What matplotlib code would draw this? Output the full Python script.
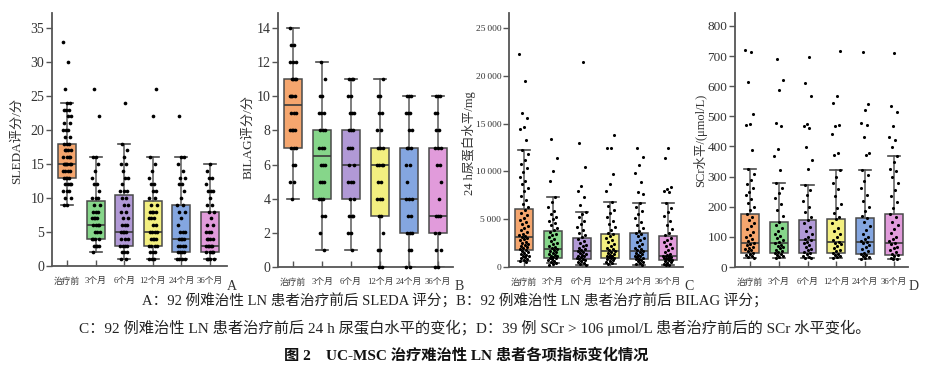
import numpy as np
import matplotlib
matplotlib.use("Agg")
import matplotlib.pyplot as plt

plt.rcParams['font.family'] = ['Liberation Serif', 'Noto Sans CJK SC']

groups = ['治疗前', '3个月', '6个月', '12个月', '24个月', '36个月']
box_colors = ['#F5A66E', '#86D68A', '#B199D6', '#F3EF80', '#84A6E0', '#E19BDB']

# ---- Panel A: SLEDA ----
sleda_pre = [33, 30, 26, 24, 24, 23, 23, 23, 22, 22, 21, 21, 20, 20, 20, 19, 19, 18, 18, 18, 17, 17, 17, 17,
             16, 16, 16, 16, 15, 15, 15, 15, 15, 15, 14, 14, 14, 14, 13, 13, 13, 13, 12, 12, 12, 12, 11, 11, 11,
             10, 10, 9, 9]
sleda_3m = [26, 22, 16, 16, 15, 14, 13, 12, 12, 11, 10, 10, 10, 9, 9, 8, 8, 8, 7, 7, 7, 7, 6, 6, 6, 6, 5, 5, 5,
            4, 4, 4, 4, 3, 3, 3, 3, 2]
sleda_6m = [24, 18, 17, 16, 15, 15, 14, 13, 13, 12, 11, 11, 11, 10, 10, 9, 9, 8, 8, 7, 7, 6, 6, 6, 5, 5, 5, 5,
            4, 4, 4, 3, 3, 3, 3, 2, 2, 2, 1, 1]
sleda_12m = [26, 22, 16, 15, 14, 13, 12, 12, 11, 11, 10, 10, 9, 9, 8, 8, 8, 8, 7, 7, 7, 6, 6, 5, 5, 5, 5, 4, 4,
             4, 4, 3, 3, 3, 3, 2, 2, 2, 1, 1, 1]
sleda_24m = [22, 16, 16, 15, 14, 13, 13, 12, 12, 11, 10, 9, 9, 8, 8, 7, 6, 5, 5, 5, 4, 4, 4, 4, 3, 3, 3, 3, 2, 2,
             2, 2, 1, 1, 1, 1]
sleda_36m = [15, 14, 13, 13, 12, 11, 11, 11, 10, 9, 9, 8, 8, 7, 6, 6, 5, 5, 5, 4, 4, 4, 4, 3, 3, 3, 3, 3, 2, 2,
             2, 2, 1, 1, 1, 1]
sleda_q1 = [13, 4, 3, 3, 2, 2]
sleda_med = [15, 6, 5, 5, 4, 3]
sleda_q3 = [18, 9.5, 10.5, 9.5, 9, 8]
sleda_lo = [9, 2, 1, 1, 1, 1]
sleda_hi = [24, 16, 18, 16, 16, 15]

# ---- Panel B: BILAG ----
bilag_pre = [14, 13, 13, 12, 12, 12, 11, 11, 11, 11, 10, 10, 10, 10, 9, 9, 9, 8, 8, 8, 8, 7, 7, 7, 6, 6, 5, 5, 4]
bilag_3m = [12, 11, 10, 10, 9, 9, 9, 8, 8, 8, 7, 7, 7, 6, 6, 6, 5, 5, 5, 4, 4, 4, 3, 3, 2, 1]
bilag_6m = [11, 11, 11, 10, 10, 9, 9, 9, 8, 8, 8, 7, 7, 7, 6, 6, 5, 5, 5, 4, 4, 3, 3, 3, 2, 2, 1]
bilag_12m = [11, 10, 10, 9, 9, 8, 8, 7, 7, 7, 6, 6, 6, 6, 5, 5, 4, 4, 4, 3, 3, 2, 1, 1, 0, 0]
bilag_24m = [10, 10, 10, 9, 9, 9, 8, 8, 7, 7, 7, 6, 6, 5, 4, 4, 4, 3, 3, 2, 2, 2, 1, 1, 0, 0]
bilag_36m = [10, 10, 10, 9, 9, 8, 8, 7, 7, 7, 6, 6, 5, 4, 3, 3, 3, 2, 2, 1, 1, 0, 0]
bilag_q1 = [7, 4, 4, 3, 2, 2]
bilag_med = [9.5, 6.5, 6, 6, 4, 3]
bilag_q3 = [11, 8, 8, 7, 7, 7]
bilag_lo = [4, 1, 1, 0, 0, 0]
bilag_hi = [14, 12, 11, 11, 10, 10]

# ---- Panel C: 24 h urine protein (mg) ----
prot_pre = [22300, 19500, 16100, 15600, 14600, 14400, 13300, 12200, 11800, 11200, 10800, 10400, 9900, 9400, 9000,
            8700, 8300, 7900, 7400, 7000, 6600, 6300, 6000, 5700, 5400, 5100, 4900, 4700, 4500, 4300, 4100, 3900,
            3700, 3500, 3300, 3200, 3100, 3000, 2900, 2800, 2600, 2500, 2400, 2300, 2200, 2100, 2000, 1900, 1800,
            1700, 1600, 1500, 1400, 1300, 1200, 1100, 1000, 900, 800, 700, 600, 500]
prot_3m = [13400, 11400, 10000, 9000, 7350, 6800, 6300, 5900, 5500, 5200, 5000, 4800, 4600, 4400, 4100, 3900, 3700,
           3500, 3300, 3100, 2900, 2700, 2500, 2400, 2200, 2100, 2000, 1900, 1800, 1700, 1600, 1500, 1400, 1300,
           1200, 1100, 1000, 950, 900, 800, 700, 600, 500, 450, 350, 250]
prot_6m = [21400, 13000, 10500, 8500, 8000, 7350, 6500, 5800, 5500, 5200, 4800, 4500, 4200, 3900, 3600, 3300, 3100,
           2900, 2700, 2500, 2300, 2200, 2000, 1900, 1800, 1700, 1600, 1500, 1400, 1300, 1200, 1100, 1000, 900, 850,
           800, 700, 600, 500, 400, 300, 200]
prot_12m = [13800, 12500, 12400, 9700, 8700, 7900, 6830, 6400, 6000, 5600, 5200, 4800, 4500, 4200, 3900, 3600, 3400,
            3200, 3000, 2800, 2600, 2400, 2200, 2000, 1900, 1800, 1700, 1600, 1500, 1400, 1300, 1200, 1100, 1000,
            950, 900, 800, 700, 600, 500, 400, 300]
prot_24m = [12400, 11500, 10700, 9800, 8850, 7800, 7600, 6700, 6300, 5900, 5500, 5100, 4700, 4400, 4100, 3800, 3600,
            3400, 3200, 3000, 2800, 2600, 2400, 2200, 2000, 1900, 1800, 1700, 1600, 1500, 1400, 1300, 1200, 1100,
            1000, 900, 870, 800, 700, 600, 500, 400, 300, 200]
prot_36m = [12400, 11400, 8400, 8200, 8000, 7800, 6650, 6200, 5800, 5300, 4800, 4400, 4000, 3600, 3300, 3000, 2800,
            2600, 2400, 2200, 2000, 1800, 1600, 1400, 1300, 1200, 1150, 1100, 1000, 950, 900, 850, 800, 750, 700,
            600, 500, 400, 300, 250, 200]
prot_q1 = [1780, 980, 840, 900, 870, 730]
prot_med = [3100, 1880, 1700, 1700, 1700, 1150]
prot_q3 = [6060, 3760, 3070, 3400, 3600, 3270]
prot_lo = [600, 400, 250, 300, 250, 200]
prot_hi = [12200, 7350, 5800, 6830, 6700, 6650]

# ---- Panel D: SCr (umol/L) ----
scr_pre = [720, 714, 614, 509, 476, 470, 389, 326, 310, 290, 275, 262, 250, 238, 225, 212, 200, 188, 176, 165, 155,
           145, 135, 125, 115, 105, 98, 92, 86, 80, 76, 72, 68, 64, 60, 56, 52, 48, 44, 40, 36, 32, 30]
scr_3m = [689, 620, 589, 478, 467, 392, 368, 323, 278, 262, 245, 228, 210, 190, 170, 150, 140, 130, 120, 110, 102,
          95, 88, 82, 78, 74, 70, 66, 62, 58, 54, 50, 47, 44, 40, 36, 33, 31]
scr_6m = [698, 611, 568, 476, 467, 462, 398, 356, 326, 272, 255, 238, 220, 200, 182, 165, 156, 145, 132, 120, 110,
          100, 94, 88, 84, 78, 72, 66, 60, 55, 50, 46, 42, 38, 34, 31, 29]
scr_12m = [718, 568, 544, 470, 468, 442, 378, 373, 322, 300, 280, 260, 235, 210, 195, 180, 165, 158, 145, 130, 118,
           108, 98, 90, 84, 80, 76, 70, 64, 58, 52, 47, 43, 39, 35, 32, 29]
scr_24m = [714, 542, 522, 478, 470, 431, 378, 373, 323, 305, 285, 262, 240, 220, 200, 185, 170, 164, 150, 135, 122,
           110, 100, 92, 86, 82, 78, 72, 66, 60, 54, 48, 44, 40, 36, 32, 29, 26]
scr_36m = [709, 533, 514, 467, 433, 420, 398, 368, 350, 325, 320, 300, 280, 255, 235, 215, 195, 176, 165, 150, 138,
           125, 112, 100, 92, 85, 80, 75, 68, 62, 55, 49, 44, 39, 35, 31, 28, 26]
scr_q1 = [48, 48, 46, 46, 44, 39]
scr_med = [79, 80, 88, 83, 84, 80]
scr_q3 = [176, 150, 156, 158, 164, 176]
scr_lo = [29, 31, 29, 29, 26, 26]
scr_hi = [326, 278, 272, 322, 323, 368]

W, H = 930, 378
fig = plt.figure(figsize=(W / 100, H / 100), dpi=100)


def rect(l, r, t, b):
    return [l / W, 1 - b / H, (r - l) / W, (b - t) / H]


def panel(axrect, pts, q1, med, q3, lo, hi, ylim, yticks, yticklabels, ytick_fs, xlim, spread, msize):
    ax = fig.add_axes(axrect)
    pos = np.arange(len(groups))
    stats = []
    for i in range(len(groups)):
        stats.append(dict(q1=q1[i], med=med[i], q3=q3[i], whislo=lo[i], whishi=hi[i], fliers=[]))
    bp = ax.bxp(stats, positions=pos, widths=0.62, patch_artist=True, showfliers=False,
                capwidths=0.42,
                boxprops=dict(edgecolor='#4a4a4a', linewidth=1.1),
                medianprops=dict(color='#3a3a3a', linewidth=1.2),
                whiskerprops=dict(color='#5a5a5a', linewidth=1.1),
                capprops=dict(color='#4a4a4a', linewidth=1.2))
    for patch, c in zip(bp['boxes'], box_colors):
        patch.set_facecolor(c)
    for i, vals in enumerate(pts):
        n = len(vals)
        off = ((np.arange(n) * 0.6180339887 + 0.31 * i) % 1.0 - 0.5) * 2 * spread
        ax.scatter(pos[i] + off, vals, s=msize, color='black', zorder=5, linewidths=0, clip_on=False)
    ax.set_xlim(*xlim)
    ax.set_ylim(*ylim)
    ax.set_yticks(yticks)
    ax.set_yticklabels(yticklabels, fontsize=ytick_fs)
    ax.set_xticks(pos)
    ax.set_xticklabels(groups, fontsize=6.3)
    ax.tick_params(axis='y', direction='out', length=4, width=1.0, pad=1.5, colors='#333333', color='#555555')
    ax.tick_params(axis='x', direction='in', length=4, width=1.0, pad=8, colors='#333333', color='#555555')
    for s in ['top', 'right']:
        ax.spines[s].set_visible(False)
    for s in ['left', 'bottom']:
        ax.spines[s].set_color('#555555')
        ax.spines[s].set_linewidth(1.3)
    ax.patch.set_alpha(0)
    return ax


axA = panel(rect(52, 227, 13, 266), [sleda_pre, sleda_3m, sleda_6m, sleda_12m, sleda_24m, sleda_36m],
            sleda_q1, sleda_med, sleda_q3, sleda_lo, sleda_hi, (0, 37.2),
            [0, 5, 10, 15, 20, 25, 30, 35], ['0', '5', '10', '15', '20', '25', '30', '35'], 10,
            (-0.53, 5.6), 0.15, 7)
axB = panel(rect(278, 453, 13, 267), [bilag_pre, bilag_3m, bilag_6m, bilag_12m, bilag_24m, bilag_36m],
            bilag_q1, bilag_med, bilag_q3, bilag_lo, bilag_hi, (0, 14.88),
            [0, 2, 4, 6, 8, 10, 12, 14], ['0', '2', '4', '6', '8', '10', '12', '14'], 10,
            (-0.52, 5.52), 0.12, 7)
axC = panel(rect(509, 683, 13, 267), [prot_pre, prot_3m, prot_6m, prot_12m, prot_24m, prot_36m],
            prot_q1, prot_med, prot_q3, prot_lo, prot_hi, (0, 26570),
            [0, 5000, 10000, 15000, 20000, 25000],
            ['0', '5\u2009000', '10\u2009000', '15\u2009000', '20\u2009000', '25\u2009000'], 6.8,
            (-0.52, 5.52), 0.16, 5)
axD = panel(rect(735, 908, 13, 267), [scr_pre, scr_3m, scr_6m, scr_12m, scr_24m, scr_36m],
            scr_q1, scr_med, scr_q3, scr_lo, scr_hi, (0, 843),
            [0, 100, 200, 300, 400, 500, 600, 700, 800],
            ['0', '100', '200', '300', '400', '500', '600', '700', '800'], 9.5,
            (-0.52, 5.49), 0.16, 5)

# y labels
ylab_kw = dict(rotation=90, ha='center', va='center', color='#333333')
fig.text(17 / W, 1 - 141 / H, 'SLEDA评分/分', fontsize=9.5, **ylab_kw)
fig.text(248 / W, 1 - 137 / H, 'BILAG评分/分', fontsize=9.5, **ylab_kw)
fig.text(469 / W, 1 - 143 / H, '24 h尿蛋白水平/mg', fontsize=9, **ylab_kw)
fig.text(700 / W, 1 - 140 / H, 'SCr水平/(μmol/L)', fontsize=9, **ylab_kw)

# panel letters
for x, lab in [(232, 'A'), (459, 'B'), (689, 'C'), (914, 'D')]:
    fig.text(x / W, 1 - 286 / H, lab, ha='center', va='center', fontsize=10, color='#333333')

# captions
fig.text(455 / W, 1 - 301 / H,
         'A：92 例难治性 LN 患者治疗前后 SLEDA 评分；B：92 例难治性 LN 患者治疗前后 BILAG 评分；',
         ha='center', va='center', fontsize=10.5, color='#222222')
fig.text(475 / W, 1 - 328 / H,
         'C：92 例难治性 LN 患者治疗前后 24 h 尿蛋白水平的变化；D：39 例 SCr > 106 μmol/L 患者治疗前后的 SCr 水平变化。',
         ha='center', va='center', fontsize=11, color='#222222')
fig.text(466 / W, 1 - 355 / H, '图 2　UC-MSC 治疗难治性 LN 患者各项指标变化情况',
         ha='center', va='center', fontsize=11, fontweight='bold', color='#111111')

fig.savefig('out.png', dpi=100, facecolor='white')
